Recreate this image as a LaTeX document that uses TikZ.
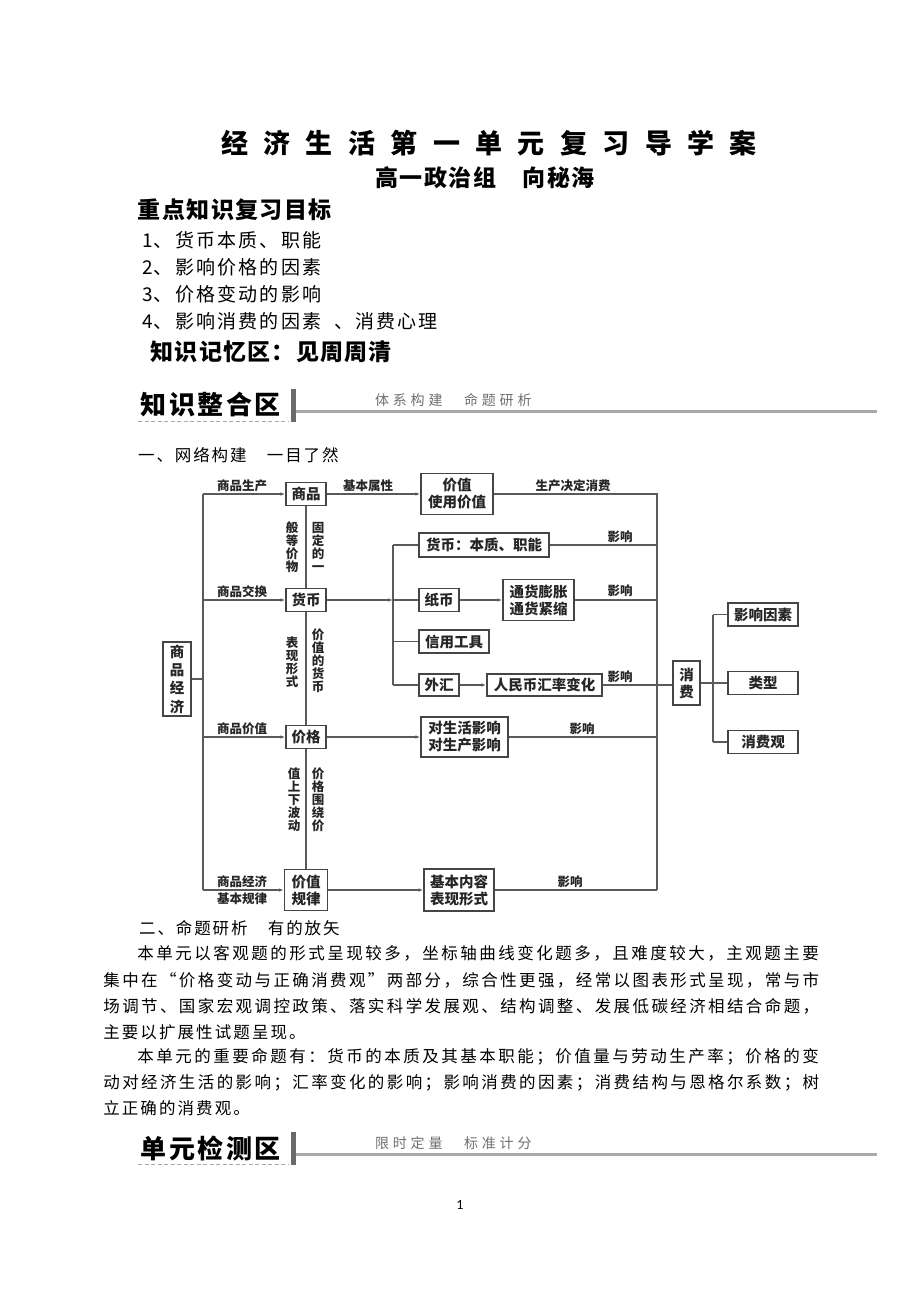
\documentclass[tikz,border=0pt]{standalone}
\usepackage{fontspec}
\setmainfont{Noto Sans CJK SC}
\newfontfamily\pagenumfont{Carlito}
\usetikzlibrary{arrows.meta,calc}
\newdimen\gtw
\makeatletter
\newcommand\gridtext[2]{\begingroup\gtw=#1\relax\@tfor\gt@c:=#2\do{\makebox[\gtw][c]{\gt@c}}\endgroup}
\makeatother
\definecolor{linec}{HTML}{5A5A5A}
\definecolor{boxc}{HTML}{454545}
\definecolor{txt}{HTML}{262626}
\definecolor{barc}{HTML}{6A6A6A}
\definecolor{rulec}{HTML}{A8A8A8}
\definecolor{subc}{HTML}{707070}
\begin{document}
\begin{tikzpicture}[x=1pt,y=-1pt,
  box/.style={draw=boxc, line width=1.5pt, fill=white, inner sep=0pt, align=center,
    font=\fontsize{14.5}{17}\selectfont\bfseries, text=txt},
  ln/.style={draw=linec, line width=1.2pt},
  arr/.style={ln, -{Latex[length=5pt,width=3.6pt]}},
  lab/.style={inner sep=0pt, text=txt, font=\fontsize{12.5}{13}\selectfont\bfseries},
  vlab/.style={inner sep=0pt, text=txt, align=center, font=\fontsize{12.5}{13}\selectfont\bfseries},
  tx/.style={anchor=west, inner sep=0pt, text=black},
  body/.style={tx, font=\fontsize{16.5}{18}\selectfont},
]
\useasboundingbox (0,0) rectangle (920,1300);
\fill[white] (0,0) rectangle (920,1300);

% ---------- header ----------
\node[tx, font=\fontsize{27}{30}\selectfont\bfseries] (title) at (213.3,143) {\gridtext{42.4pt}{经济生活第一单元复习导学案}};
\node[tx, font=\fontsize{23}{26}\selectfont\bfseries] (author) at (374.2,178) {\gridtext{24.6pt}{高一政治组　向秘海}};
\node[tx, font=\fontsize{23}{26}\selectfont\bfseries] (goal) at (137,210) {\gridtext{24.4pt}{重点知识复习目标}};
\node[tx, font=\fontsize{19}{21}\selectfont] (g1) at (142,240) {\makebox[10.6pt][l]{1}\gridtext{21.2pt}{、货币本质、职能}};
\node[tx, font=\fontsize{19}{21}\selectfont] (g2) at (142,267) {\makebox[10.6pt][l]{2}\gridtext{21.2pt}{、影响价格的因素}};
\node[tx, font=\fontsize{19}{21}\selectfont] (g3) at (142,294) {\makebox[10.6pt][l]{3}\gridtext{21.2pt}{、价格变动的影响}};
\node[tx, font=\fontsize{19}{21}\selectfont] (g4) at (142,321) {\makebox[10.6pt][l]{4}\gridtext{21.2pt}{、影响消费的因素}\hspace{10.6pt}\gridtext{21.2pt}{、消费心理}};
\node[tx, font=\fontsize{23}{26}\selectfont\bfseries] (memo) at (150,352) {\gridtext{24.2pt}{知识记忆区：见周周清}};

% ---------- banner 1 ----------
\fill[barc] (290.5,389) rectangle (295.5,422);
\draw[rulec, line width=2.6pt] (296,411.5) -- (877,411.5);
\draw[rulec, line width=1.2pt, dash pattern=on 4pt off 2.5pt] (138,421.5) -- (289,421.5);
\node[tx, font=\fontsize{26}{28}\selectfont\bfseries] (ban1) at (139,405) {\gridtext{28.6pt}{知识整合区}};
\node[tx, text=subc, font=\fontsize{14}{16}\selectfont] (ban1s) at (373,400) {\gridtext{17.8pt}{体系构建　命题研析}};

\node[body] (sec1) at (137,455) {\gridtext{18.4pt}{一、网络构建　一目了然}};

% ---------- diagram ----------
\node[box, minimum width=28, minimum height=74, font=\fontsize{14.5}{18.3}\selectfont\bfseries] (jj) at (177,679) {商\\品\\经\\济};
\node[box, minimum width=40, minimum height=23] (sp) at (306,494) {商品};
\node[box, minimum width=72, minimum height=41] (jz) at (457,494) {价值\\使用价值};
\node[box, minimum width=40, minimum height=23] (hb) at (306,600) {货币};
\node[box, minimum width=130, minimum height=24] (hbbz) at (484,545) {货币：本质、职能};
\node[box, minimum width=40, minimum height=23] (zb) at (439,600) {纸币};
\node[box, minimum width=71, minimum height=41] (tp) at (538.5,600) {通货膨胀\\通货紧缩};
\node[box, minimum width=70, minimum height=23] (xy) at (454,641.5) {信用工具};
\node[box, minimum width=40, minimum height=22] (wh) at (439,685) {外汇};
\node[box, minimum width=115, minimum height=22] (rmb) at (544.5,685) {人民币汇率变化};
\node[box, minimum width=40, minimum height=23] (jg) at (306,737) {价格};
\node[box, minimum width=87, minimum height=40] (dsh) at (464.5,737) {对生活影响\\对生产影响};
\node[box, minimum width=43, minimum height=41] (gl) at (306,890) {价值\\规律};
\node[box, minimum width=70, minimum height=42] (jb) at (459,890) {基本内容\\表现形式};
\node[box, minimum width=27, minimum height=44] (xf) at (686.5,683) {消\\费};
\node[box, minimum width=70, minimum height=23] (yx) at (763,614.5) {影响因素};
\node[box, minimum width=70, minimum height=23] (lx) at (763,683) {类型};
\node[box, minimum width=70, minimum height=23] (xfg) at (763,742) {消费观};

% junction coordinates
\coordinate (L1) at (203,494);
\coordinate (L2) at (203,600);
\coordinate (Lj) at (203,679);
\coordinate (L3) at (203,737);
\coordinate (L4) at (203,890);
\coordinate (R1) at (657,494);
\coordinate (R2) at (657,545);
\coordinate (R3) at (657,600);
\coordinate (R5) at (657,737);
\coordinate (R6) at (657,890);
\coordinate (M1) at (393,545);
\coordinate (M2) at (393,600);
\coordinate (M3) at (393,641.5);
\coordinate (M4) at (393,685);
\coordinate (C0) at (713,683);
\coordinate (C1) at (713,614.5);
\coordinate (C3) at (713,742);

% trunks
\draw[ln] (L1) -- (L4);
\draw[ln] (jj.east) -- (Lj);
\draw[arr] (L1) -- (sp.west);
\draw[arr] (L2) -- (hb.west);
\draw[arr] (L3) -- (jg.west);
\draw[arr] (L4) -- (gl.west);
\draw[arr] (sp.east) -- (jz.west);
\draw[ln] (jz.east) -- (R1) -- (R6);
\draw[arr] (hb.east) -- (M2);
\draw[ln] (M1) -- (M4);
\draw[ln] (M1) -- (hbbz.west);
\draw[ln] (M2) -- (zb.west);
\draw[ln] (M3) -- (xy.west);
\draw[ln] (M4) -- (wh.west);
\draw[arr] (zb.east) -- (tp.west);
\draw[arr] (wh.east) -- (rmb.west);
\draw[ln] (hbbz.east) -- (R2);
\draw[ln] (tp.east) -- (R3);
\draw[ln] (rmb.east) -- (rmb.east -| xf.west);
\draw[arr] (jg.east) -- (dsh.west);
\draw[ln] (dsh.east) -- (R5);
\draw[arr] (gl.east) -- (jb.west);
\draw[ln] (jb.east) -- (R6);
\draw[ln] (sp.south) -- (hb.north);
\draw[ln] (hb.south) -- (jg.north);
\draw[ln] (jg.south) -- (gl.north);
\draw[ln] (xf.east) -- (C0);
\draw[ln] (C1) -- (C3);
\draw[ln] (C1) -- (yx.west);
\draw[ln] (C0) -- (lx.west);
\draw[ln] (C3) -- (xfg.west);

% labels
\node[lab] (l1) at (242,486) {商品生产};
\node[lab] (l2) at (242,592) {商品交换};
\node[lab] (l3) at (242,729) {商品价值};
\node[lab] (l4) at (242,882) {商品经济};
\node[lab] (l5) at (242,899) {基本规律};
\node[lab] (l6) at (368,486) {基本属性};
\node[lab] (l7) at (573,486) {生产决定消费};
\node[lab] (e1) at (620,537) {影响};
\node[lab] (e2) at (620,591) {影响};
\node[lab] (e3) at (620,677) {影响};
\node[lab] (e4) at (582,729) {影响};
\node[lab] (e5) at (570,882) {影响};
\node[vlab] (v1) at (292,547) {般\\等\\价\\物};
\node[vlab] (v2) at (318,547) {固\\定\\的\\一};
\node[vlab] (v3) at (292,662) {表\\现\\形\\式};
\node[vlab] (v4) at (318,661) {价\\值\\的\\货\\币};
\node[vlab] (v5) at (294,800) {值\\上\\下\\波\\动};
\node[vlab] (v6) at (318,800) {价\\格\\围\\绕\\价};

% ---------- section 2 ----------
\node[body] (sec2) at (138,928) {\gridtext{18.4pt}{二、命题研析　有的放矢}};
\node[body] (p1) at (136,953) {\gridtext{19pt}{本单元以客观题的形式呈现较多，坐标轴曲线变化题多，且难度较大，主观题主要}};
\node[body] (p2) at (102,980) {\gridtext{18.9pt}{集中在“价格变动与正确消费观”两部分，综合性更强，经常以图表形式呈现，常与市}};
\node[body] (p3) at (102,1006) {\gridtext{18.9pt}{场调节、国家宏观调控政策、落实科学发展观、结构调整、发展低碳经济相结合命题，}};
\node[body] (p4) at (102,1032) {\gridtext{18.6pt}{主要以扩展性试题呈现。}};
\node[body] (p5) at (136,1057) {\gridtext{19pt}{本单元的重要命题有：货币的本质及其基本职能；价值量与劳动生产率；价格的变}};
\node[body] (p6) at (102,1083) {\gridtext{18.9pt}{动对经济生活的影响；汇率变化的影响；影响消费的因素；消费结构与恩格尔系数；树}};
\node[body] (p7) at (102,1108) {\gridtext{18.6pt}{立正确的消费观。}};

% ---------- banner 2 ----------
\fill[barc] (290.5,1132) rectangle (295.5,1165);
\draw[rulec, line width=2.6pt] (296,1154.5) -- (877,1154.5);
\draw[rulec, line width=1.2pt, dash pattern=on 4pt off 2.5pt] (138,1164.5) -- (289,1164.5);
\node[tx, font=\fontsize{26}{28}\selectfont\bfseries] (ban2) at (139,1148) {\gridtext{28.6pt}{单元检测区}};
\node[tx, text=subc, font=\fontsize{14}{16}\selectfont] (ban2s) at (373,1143) {\gridtext{17.8pt}{限时定量　标准计分}};

\node[inner sep=0pt, font=\pagenumfont\fontsize{14}{16}\selectfont] (pg) at (460,1205) {1};
\end{tikzpicture}
\end{document}
